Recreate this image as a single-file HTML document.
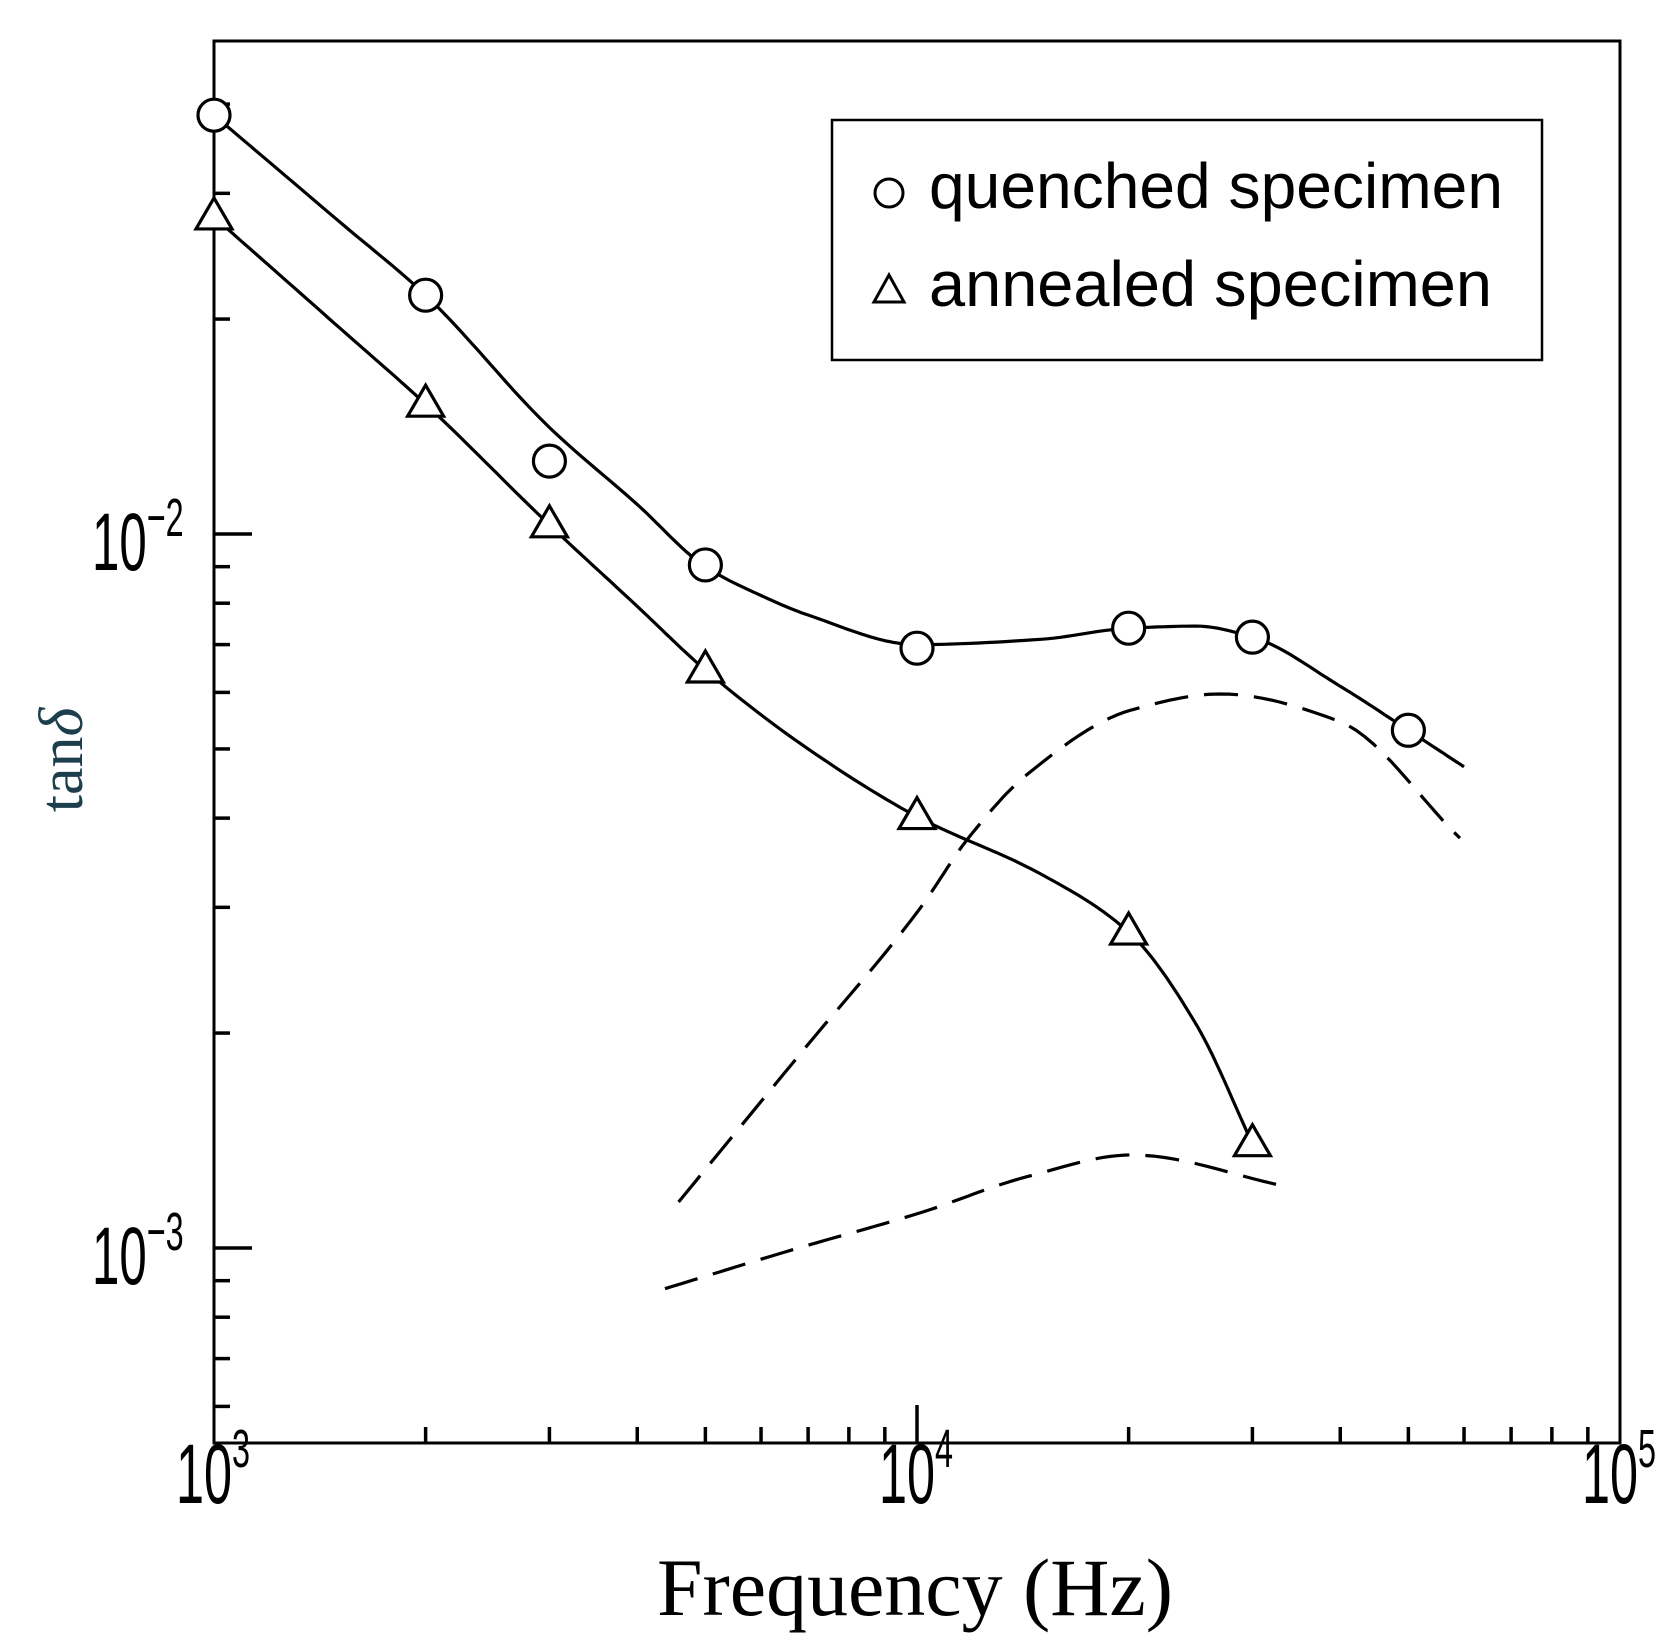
<!DOCTYPE html>
<html><head><meta charset="utf-8"><style>
html,body{margin:0;padding:0;background:#fff;}
svg{display:block;}
</style></head><body>
<svg id="chart" width="1670" height="1651" viewBox="0 0 1670 1651" xmlns="http://www.w3.org/2000/svg">
<rect x="0" y="0" width="1670" height="1651" fill="#fff"/>
<g id="plot"></g>
<g>
  <rect x="832" y="120" width="710" height="240" fill="#fff" stroke="#000" stroke-width="2.5"/>
  <circle cx="889" cy="193" r="14" fill="none" stroke="#000" stroke-width="3"/>
  <text x="929" y="208" font-family="Liberation Sans, sans-serif" font-size="64" textLength="574" lengthAdjust="spacingAndGlyphs">quenched specimen</text>
  <polygon points="874,302 904,302 889,275" fill="none" stroke="#000" stroke-width="3"/>
  <text x="929" y="306" font-family="Liberation Sans, sans-serif" font-size="64" textLength="563" lengthAdjust="spacingAndGlyphs">annealed specimen</text>
</g>
<text x="915" y="1615" text-anchor="middle" font-family="Liberation Serif, serif" font-size="82" textLength="516" lengthAdjust="spacingAndGlyphs">Frequency  (Hz)</text>
<text transform="translate(82,760) rotate(-90)" text-anchor="middle" font-family="Liberation Serif, serif" font-size="62" fill="#1d3e4c">tan<tspan font-style="italic">δ</tspan></text>
</svg>
<script>
const xTickValues = [1e3, 1e4, 1e5];
const xTickLabels = ["3", "4", "5"];
const yTickValues = [1e-2, 1e-3];
const yTickLabels = ["−2", "−3"];
// measured points (markers)
const freqQuenched = [1e3, 2e3, 3e3, 5e3, 1e4, 2e4, 3e4, 5e4];
const tanQuenched = [0.0386, 0.0216, 0.01265, 0.00905, 0.00692, 0.00738, 0.00717, 0.00531];
const freqAnnealed = [1e3, 2e3, 3e3, 5e3, 1e4, 2e4, 3e4];
const tanAnnealed = [0.0278, 0.0152, 0.0103, 0.00645, 0.00402, 0.00277, 0.00140];
// fitted curve knots
const curveQFreq = [1e3, 1.5e3, 2e3, 3e3, 4e3, 5e3, 6e3, 7e3, 1e4, 1.5e4, 2e4, 2.5e4, 3e4, 4e4, 5e4, 6e4];
const curveQTan = [0.0386, 0.0275, 0.0216, 0.0141, 0.0110, 0.0090, 0.0082, 0.0077, 0.00700, 0.00712, 0.00738, 0.00743, 0.00717, 0.00612, 0.00531, 0.00472];
const curveAFreq = [1e3, 1.5e3, 2e3, 3e3, 4e3, 5e3, 7e3, 1e4, 1.5e4, 2e4, 2.5e4, 3e4];
const curveATan = [0.0278, 0.01954, 0.0152, 0.0103, 0.00792, 0.00645, 0.00500, 0.00402, 0.00334, 0.00277, 0.00205, 0.00140];
const freqDash1 = [4580, 6820, 10100, 11830, 14360, 20200, 27000, 39800, 59200];
const tanDash1 = [0.00116, 0.00187, 0.00299, 0.00375, 0.00461, 0.00567, 0.00597, 0.00547, 0.00375];
const freqDash2 = [4380, 6620, 10100, 14400, 20200, 33400];
const tanDash2 = [0.000877, 0.000993, 0.00112, 0.00126, 0.00135, 0.00122];

const X0 = 214, X1 = 1620, Y10m2 = 534, Y10m3 = 1248, TOP = 41, BOT = 1443;
const xs = v => X0 + (Math.log10(v) - 3) * (X1 - X0) / 2;
const ys = v => Y10m2 + (-2 - Math.log10(v)) * (Y10m3 - Y10m2);
const NS = "http://www.w3.org/2000/svg";
const plot = document.getElementById('plot');
function mk(tag, attrs, parent) {
  const e = document.createElementNS(NS, tag);
  for (const k in attrs) e.setAttribute(k, attrs[k]);
  (parent || plot).appendChild(e);
  return e;
}
const frame = mk('rect', {x: X0, y: TOP, width: X1 - X0, height: BOT - TOP, fill: 'none', stroke: '#000', 'stroke-width': 3});


for (let d = 3; d < 5; d++) {
  for (let m = 1; m <= 9; m++) {
    const v = m * Math.pow(10, d);
    if (m === 1 && d === 3) continue;
    const len = (m === 1) ? 38 : 16;
    const t = mk('line', {x1: xs(v), x2: xs(v), y1: BOT, y2: BOT - len, stroke: '#000', 'stroke-width': 3.5});
    
    
  }
}
for (let d = -4; d <= -2; d++) {
  for (let m = 1; m <= 9; m++) {
    const v = m * Math.pow(10, d);
    const y = ys(v);
    if (y < TOP + 2 || y > BOT - 2) continue;
    const len = (m === 1) ? 38 : 16;
    const t = mk('line', {x1: X0, x2: X0 + len, y1: y, y2: y, stroke: '#000', 'stroke-width': 3.5});
    
    
  }
}
xTickValues.forEach((v, i) => {
  const x0 = xs(v) - 38;
  const g = mk('text', {x: x0, y: 1503, 'font-family': 'Liberation Sans, sans-serif', 'font-size': 84, transform: `translate(${x0},0) scale(0.6,1) translate(${-x0},0)`});
  
  
  g.textContent = '10';
  const s = mk('tspan', {dy: -36, 'font-size': 54});
  s.textContent = xTickLabels[i];
  g.appendChild(s);
});
yTickValues.forEach((v, i) => {
  const y = ys(v) + 36;
  const g = mk('text', {x: 92, y: y, 'font-family': 'Liberation Sans, sans-serif', 'font-size': 82, transform: `translate(92,0) scale(0.6,1) translate(-92,0)`});
  
  
  g.textContent = '10';
  const s = mk('tspan', {dy: -34, 'font-size': 54});
  s.textContent = yTickLabels[i];
  g.appendChild(s);
});
function splinePath(px) {
  const n = px.length, x = px.map(p => p[0]), y = px.map(p => p[1]);
  const h = [], dl = [], m = new Array(n);
  for (let i = 0; i < n - 1; i++) { h.push(x[i + 1] - x[i]); dl.push((y[i + 1] - y[i]) / h[i]); }
  m[0] = dl[0]; m[n - 1] = dl[n - 2];
  for (let i = 1; i < n - 1; i++) {
    if (dl[i - 1] * dl[i] <= 0) m[i] = 0;
    else {
      const w1 = 2 * h[i] + h[i - 1], w2 = h[i] + 2 * h[i - 1];
      m[i] = (w1 + w2) / (w1 / dl[i - 1] + w2 / dl[i]);
    }
  }
  let d = `M${x[0].toFixed(1)},${y[0].toFixed(1)}`;
  for (let j = 0; j < n - 1; j++) {
    for (let k = 1; k <= 14; k++) {
      const t = k / 14, t2 = t * t, t3 = t2 * t;
      const yy = (2 * t3 - 3 * t2 + 1) * y[j] + (t3 - 2 * t2 + t) * h[j] * m[j] + (-2 * t3 + 3 * t2) * y[j + 1] + (t3 - t2) * h[j] * m[j + 1];
      d += ` L${(x[j] + t * h[j]).toFixed(1)},${yy.toFixed(1)}`;
    }
  }
  return d;
}
function pts(fx, fy) { return fx.map((f, i) => [xs(f), ys(fy[i])]); }
const q = mk('path', {d: splinePath(pts(curveQFreq, curveQTan)), fill: 'none', stroke: '#000', 'stroke-width': 3.2});


const a = mk('path', {d: splinePath(pts(curveAFreq, curveATan)), fill: 'none', stroke: '#000', 'stroke-width': 3.2});


const d1 = mk('path', {d: splinePath(pts(freqDash1, tanDash1)), fill: 'none', stroke: '#000', 'stroke-width': 3.2, 'stroke-dasharray': '34 16'});


const d2 = mk('path', {d: splinePath(pts(freqDash2, tanDash2)), fill: 'none', stroke: '#000', 'stroke-width': 3.2, 'stroke-dasharray': '34 16'});


freqQuenched.forEach((f, i) => {
  const c = mk('circle', {cx: xs(f), cy: ys(tanQuenched[i]), r: 16, fill: '#fff', stroke: '#000', 'stroke-width': 3.2});
  
  
});
freqAnnealed.forEach((f, i) => {
  const x = xs(f), y = ys(tanAnnealed[i]);
  const t = mk('polygon', {points: `${x - 18},${y + 12} ${x + 18},${y + 12} ${x},${y - 19}`, fill: '#fff', stroke: '#000', 'stroke-width': 3.2});
  
  
});
</script>
</body></html>
